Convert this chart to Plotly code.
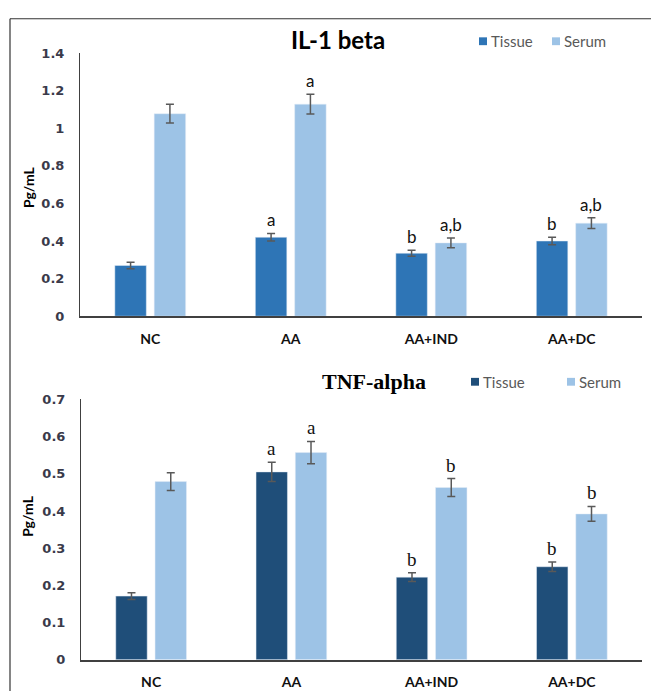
import plotly.graph_objects as go

W, H = 651, 699

groups = ["NC", "AA", "AA+IND", "AA+DC"]
series_names = ["Tissue", "Serum"]

# IL-1 beta (pg/mL)
il1_tissue = [0.27, 0.42, 0.335, 0.40]
il1_tissue_err = [0.017, 0.02, 0.016, 0.02]
il1_serum = [1.077, 1.128, 0.39, 0.495]
il1_serum_err = [0.05, 0.052, 0.026, 0.029]
il1_tissue_sig = ["", "a", "b", "b"]
il1_serum_sig = ["", "a", "a,b", "a,b"]

# TNF-alpha (pg/mL)
tnf_tissue = [0.171, 0.505, 0.222, 0.25]
tnf_tissue_err = [0.009, 0.026, 0.012, 0.013]
tnf_serum = [0.479, 0.557, 0.463, 0.392]
tnf_serum_err = [0.024, 0.03, 0.024, 0.02]
tnf_tissue_sig = ["", "a", "b", "b"]
tnf_serum_sig = ["", "a", "b", "b"]

il1_ticks = [0, 0.2, 0.4, 0.6, 0.8, 1, 1.2, 1.4]
il1_ticktext = ["0", "0.2", "0.4", "0.6", "0.8", "1", "1.2", "1.4"]
tnf_ticks = [0, 0.1, 0.2, 0.3, 0.4, 0.5, 0.6, 0.7]
tnf_ticktext = ["0", "0.1", "0.2", "0.3", "0.4", "0.5", "0.6", "0.7"]

C_TISSUE_TOP = "#2E75B6"
C_TISSUE_BOT = "#1F4E79"
C_SERUM = "#9DC3E6"
ERR_C = "#595959"
BARGAP = 0.44
BARGROUPGAP = 0.2


def px(x):
    return x / W


def py(y):
    return 1 - y / H


def err(vals, col):
    return dict(type="data", array=vals, visible=True, color=col, thickness=1.5, width=4)


fig = go.Figure()

fig.add_trace(go.Bar(x=groups, y=il1_tissue, name=series_names[0], marker_color=C_TISSUE_TOP,
                     error_y=err(il1_tissue_err, ERR_C), xaxis="x", yaxis="y"))
fig.add_trace(go.Bar(x=groups, y=il1_serum, name=series_names[1], marker_color=C_SERUM,
                     error_y=err(il1_serum_err, ERR_C), xaxis="x", yaxis="y"))
fig.add_trace(go.Bar(x=groups, y=tnf_tissue, name=series_names[0], marker_color=C_TISSUE_BOT,
                     error_y=err(tnf_tissue_err, ERR_C), xaxis="x2", yaxis="y2"))
fig.add_trace(go.Bar(x=groups, y=tnf_serum, name=series_names[1], marker_color=C_SERUM,
                     error_y=err(tnf_serum_err, ERR_C), xaxis="x2", yaxis="y2"))

# significance letters above each error bar
half = (1 - BARGAP) / 4
annotations = []
shapes = []


def add_sig(vals, errs, sigs, offset, xref, yref, font):
    for i, (v, e, s) in enumerate(zip(vals, errs, sigs)):
        if s:
            annotations.append(dict(x=i + offset, y=v + e, xref=xref, yref=yref, text=s,
                                    showarrow=False, yanchor="bottom", yshift=1, font=font))


sans_lbl = dict(family="Lato", size=17, color="#111111")
serif_lbl = dict(family="Liberation Serif", size=19, color="#111111")
add_sig(il1_tissue, il1_tissue_err, il1_tissue_sig, -half, "x", "y", sans_lbl)
add_sig(il1_serum, il1_serum_err, il1_serum_sig, half, "x", "y", sans_lbl)
add_sig(tnf_tissue, tnf_tissue_err, tnf_tissue_sig, -half, "x2", "y2", serif_lbl)
add_sig(tnf_serum, tnf_serum_err, tnf_serum_sig, half, "x2", "y2", serif_lbl)

# chart titles
annotations.append(dict(x=px(338), y=py(33), xref="paper", yref="paper", text="<b>IL-1 beta</b>",
                        showarrow=False, xanchor="center", yanchor="middle",
                        font=dict(family="Lato", size=24, color="#000000")))
annotations.append(dict(x=px(374), y=py(383), xref="paper", yref="paper", text="<b>TNF-alpha</b>",
                        showarrow=False, xanchor="center", yanchor="middle",
                        font=dict(family="Liberation Serif", size=22, color="#000000")))
# y-axis titles
for yc in (184, 520):
    annotations.append(dict(x=px(28), y=py(yc), xref="paper", yref="paper", text="<b>Pg/mL</b>",
                            textangle=-90, showarrow=False, xanchor="center", yanchor="middle",
                            font=dict(family="Lato", size=14, color="#000000")))


# compact key: small colour square followed by the series name
def add_key(y_c, entries):
    for (xc, name, color) in entries:
        shapes.append(dict(type="rect", xref="paper", yref="paper",
                           x0=px(xc - 4), x1=px(xc + 4), y0=py(y_c + 4), y1=py(y_c - 4),
                           fillcolor=color, line=dict(width=0)))
        annotations.append(dict(x=px(xc + 6), y=py(y_c), xref="paper", yref="paper", text=name,
                                showarrow=False, xanchor="left", yanchor="middle",
                                font=dict(family="Lato", size=15, color="#595959")))


add_key(35, [(483, series_names[0], C_TISSUE_TOP), (556, series_names[1], C_SERUM)])
add_key(383, [(475, series_names[0], C_TISSUE_BOT), (571, series_names[1], C_SERUM)])

tickfont = dict(family="DejaVu Sans", size=13, color="#3a3a4a", weight="bold")
xtickfont = dict(family="Lato", size=14, color="#111111", weight="bold")

xaxis_common = dict(showgrid=False, zeroline=False, showline=True, linecolor="#404040",
                    linewidth=1.6, ticks="outside", ticklen=9, tickcolor="rgba(0,0,0,0)",
                    tickfont=xtickfont)
yaxis_common = dict(showgrid=False, zeroline=False, showline=True, linecolor="#404040",
                    linewidth=1, ticks="outside", ticklen=12, tickcolor="rgba(0,0,0,0)",
                    tickfont=tickfont)

# outer frame: top and left edges
shapes += [
    dict(type="line", xref="paper", yref="paper", x0=px(10), x1=1, y0=py(12), y1=py(12),
         line=dict(color="#333333", width=1.2)),
    dict(type="line", xref="paper", yref="paper", x0=px(10), x1=px(10), y0=0, y1=py(12),
         line=dict(color="#333333", width=1.2)),
]

fig.update_layout(
    width=W, height=H,
    margin=dict(l=0, r=0, t=0, b=0),
    paper_bgcolor="white", plot_bgcolor="white",
    barmode="group", bargap=BARGAP, bargroupgap=BARGROUPGAP,
    xaxis=dict(domain=[px(80), px(642)], anchor="y", **xaxis_common),
    yaxis=dict(domain=[py(316), py(47)], anchor="x", range=[0, 1.4], tickvals=il1_ticks,
               ticktext=il1_ticktext, **yaxis_common),
    xaxis2=dict(domain=[px(81), px(642)], anchor="y2", **xaxis_common),
    yaxis2=dict(domain=[py(667), py(401)], anchor="x2", range=[0, 0.7], tickvals=tnf_ticks,
                ticktext=tnf_ticktext, **yaxis_common),
    annotations=annotations,
    shapes=shapes,
    showlegend=False,
)

fig.write_html("out.html")
